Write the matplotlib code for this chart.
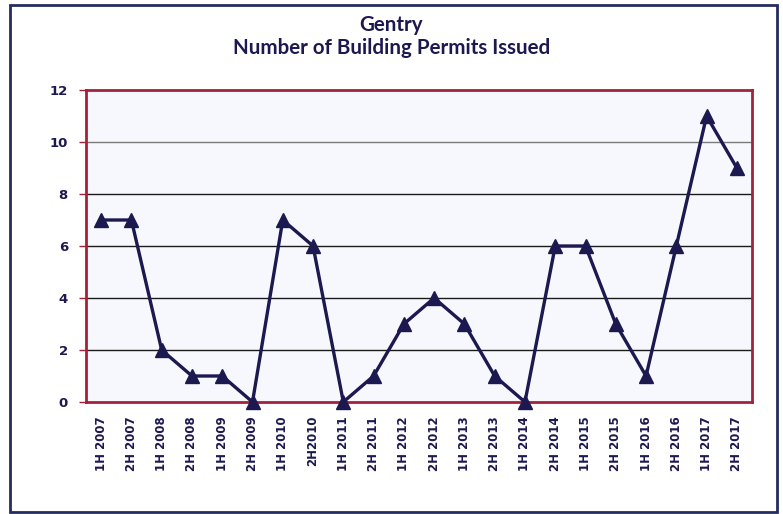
import matplotlib
matplotlib.use("Agg")
import matplotlib.pyplot as plt
from matplotlib.patches import Rectangle

periods = ["1H 2007", "2H 2007", "1H 2008", "2H 2008", "1H 2009", "2H 2009",
           "1H 2010", "2H2010", "1H 2011", "2H 2011", "1H 2012", "2H 2012",
           "1H 2013", "2H 2013", "1H 2014", "2H 2014", "1H 2015", "2H 2015",
           "1H 2016", "2H 2016", "1H 2017", "2H 2017"]
permits = [7, 7, 2, 1, 1, 0, 7, 6, 0, 1, 3, 4, 3, 1, 0, 6, 6, 3, 1, 6, 11, 9]
y_ticks = [0, 2, 4, 6, 8, 10, 12]

navy = "#1C1850"
frame_red = "#A4213A"

fig = plt.figure(figsize=(7.83, 5.14), dpi=100)
fig.patch.set_facecolor("white")

# outer chart border
fig.patches.append(Rectangle((10 / 783, 1 - 512 / 514), 767 / 783, 507 / 514,
                             transform=fig.transFigure, fill=False,
                             edgecolor="#262D5E", linewidth=2))

ax = fig.add_axes([86 / 783, 1 - 402 / 514, 666 / 783, 312 / 514])
ax.set_facecolor("#F7F8FD")

x = list(range(len(periods)))
for v in y_ticks[1:-1]:
    ax.axhline(v, color="#1a1a1a" if v != 10 else "#7a7a7a", linewidth=1, zorder=1)

ax.plot(x, permits, color=navy, linewidth=2.4, marker="^", markersize=10,
        markerfacecolor=navy, markeredgecolor=navy, zorder=3, clip_on=False)

ax.set_xlim(-0.5, len(periods) - 0.5)
ax.set_ylim(0, 12)
ax.set_yticks(y_ticks)
ax.set_yticklabels([str(v) for v in y_ticks], fontsize=9.5, fontweight="bold", color=navy)
ax.set_xticks(x)
ax.set_xticklabels(periods, rotation=90, fontsize=8.5, fontweight="bold", color=navy)
ax.tick_params(axis="x", length=0, pad=10)
ax.tick_params(axis="y", length=5, width=1, color=frame_red, pad=8)

for s in ax.spines.values():
    s.set_color(frame_red)
    s.set_linewidth(2)

fig.text(0.5, 1 - 25 / 514, "Gentry", ha="center", va="center",
         fontsize=14.8, fontweight="bold", color=navy, family="Lato")
fig.text(0.5, 1 - 48 / 514, "Number of Building Permits Issued", ha="center", va="center",
         fontsize=14.8, fontweight="bold", color=navy, family="Lato")

fig.savefig("out.png", dpi=100)
